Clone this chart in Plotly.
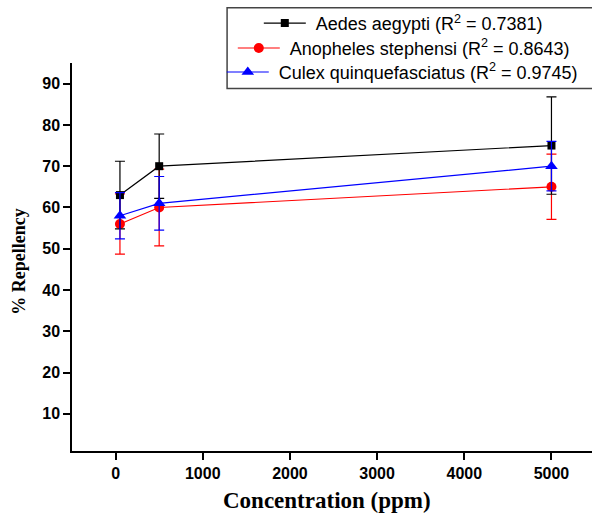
import plotly.graph_objects as go

# concentrations tested (ppm)
conc = [50, 500, 5000]

# % repellency and error bars
aedes = [63, 70, 75]
aedes_err = [8.2, 7.8, 11.8]
anopheles = [56, 60, 65]
anopheles_err = [7.3, 9.3, 7.9]
culex = [58, 61, 70]
culex_err = [5.6, 6.5, 6.0]

names = [
    "\u00a0Aedes aegypti (R<sup>2</sup> = 0.7381)",
    "\u00a0Anopheles stephensi (R<sup>2</sup> = 0.8643)",
    "\u00a0Culex quinquefasciatus (R<sup>2</sup> = 0.9745)",
]

# plot area in pixels, used to place things outside the axes
L, R, T, B = 72.3, 592, 62.7, 451.3
W, H = R - L, B - T


def px_x(p):
    return (p - L) / W


def px_y(p):
    return (B - p) / H


def series(y, err, color, symbol, size, name, legend):
    return go.Scatter(
        x=conc,
        y=y,
        name=name,
        legend=legend,
        showlegend=True,
        mode="lines+markers",
        line=dict(color=color, width=1.2),
        marker=dict(color=color, symbol=symbol, size=size),
        error_y=dict(type="data", array=err, color=color, thickness=1.2, width=5),
    )


fig = go.Figure()
# drawing order: red under black under blue, like the original
fig.add_trace(series(anopheles, anopheles_err, "#ff0000", "circle", 10, names[1], "legend2"))
fig.add_trace(series(aedes, aedes_err, "#000000", "square", 8, names[0], "legend"))
fig.add_trace(series(culex, culex_err, "#0000ff", "triangle-up", 11, names[2], "legend3"))

legend_font = dict(family="Liberation Sans, Arial", size=18, color="black")


def leg(xp, yp):
    return dict(
        x=px_x(xp), y=px_y(yp), xanchor="left", yanchor="middle",
        bgcolor="rgba(0,0,0,0)", borderwidth=0, font=legend_font,
        itemwidth=42,
    )


tick_font = dict(family="Liberation Sans, Arial", size=16, color="black", weight="bold")
title_font = dict(family="Liberation Serif, Times New Roman", size=23, color="black", weight="bold")

fig.update_layout(
    width=592,
    height=514,
    margin=dict(l=L, r=0, t=T, b=514 - B, autoexpand=False),
    paper_bgcolor="white",
    plot_bgcolor="white",
    showlegend=True,
    legend=leg(259, 23),
    legend2=leg(233, 48),
    legend3=leg(222, 72),
    xaxis=dict(
        range=[-500, 5465],
        tickvals=[0, 1000, 2000, 3000, 4000, 5000],
        showgrid=False, zeroline=False,
        showline=True, linecolor="black", linewidth=1.5,
        ticks="outside", ticklen=7, tickwidth=1.5, tickcolor="black",
        tickfont=tick_font,
    ),
    yaxis=dict(
        range=[1, 95],
        tickvals=[10, 20, 30, 40, 50, 60, 70, 80, 90],
        showgrid=False, zeroline=False,
        showline=True, linecolor="black", linewidth=1.5,
        ticks="outside", ticklen=7, tickwidth=1.5, tickcolor="black",
        tickfont=tick_font,
    ),
    shapes=[
        dict(
            type="rect", xref="paper", yref="paper",
            x0=px_x(227.3), x1=1.05, y0=px_y(88.3), y1=px_y(7.3),
            line=dict(color="#444444", width=1.5), fillcolor="white", layer="above",
        )
    ],
    annotations=[
        dict(
            text="Concentration (ppm)", xref="paper", yref="paper",
            x=px_x(326.7), y=px_y(501), xanchor="center", yanchor="middle",
            showarrow=False, font=title_font,
        ),
        dict(
            text="% Repellency", xref="paper", yref="paper",
            x=px_x(19), y=px_y(262), xanchor="center", yanchor="middle",
            textangle=-90, showarrow=False, font=dict(title_font, size=18),
        ),
    ],
)

# drop the page's default body margin so the figure sits at the window corner
fig.write_html(
    "out.html",
    config={"displayModeBar": False},
    post_script="document.body.style.margin='0';",
)
